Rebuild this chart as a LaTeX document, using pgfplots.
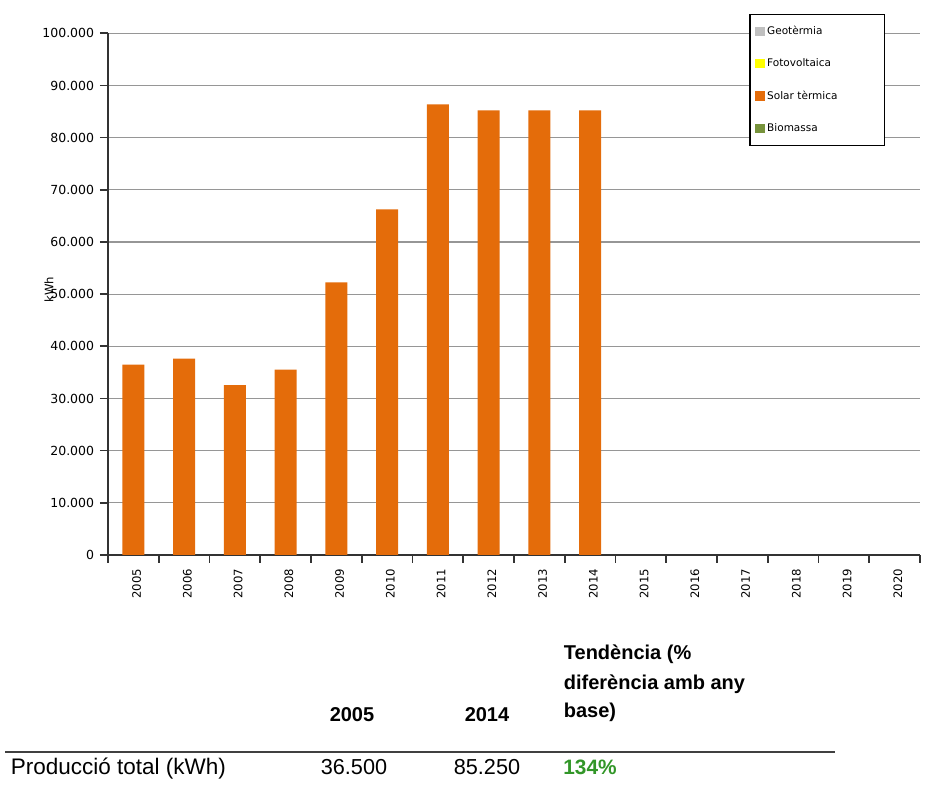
\documentclass[border=0pt]{standalone}
\usepackage{pgfplots}
\pgfplotsset{compat=1.18}
\usepackage{fontspec}
\setmainfont{Liberation Sans}
\newfontfamily\tickfont{DejaVu Sans}

\definecolor{solar}{RGB}{228,108,10}
\definecolor{geo}{RGB}{192,192,192}
\definecolor{foto}{RGB}{255,255,0}
\definecolor{bio}{RGB}{119,147,60}
\definecolor{gridc}{RGB}{150,150,150}
\definecolor{tend}{RGB}{50,150,40}

\pgfplotsset{
  sq/.style={legend image code/.code={\fill[#1] (0pt,-2.4pt) rectangle (4.8pt,2.4pt);}},
}

\begin{document}
\begin{tikzpicture}[x=0.6pt,y=0.6pt]
\path (0,0) rectangle (926,783);
\begin{axis}[
  at={(64.8pt,136.8pt)}, anchor=south west,
  scale only axis, width=487.2pt, height=313pt,
  xmin=-0.5, xmax=15.5, ymin=0, ymax=100000,
  axis x line=bottom, axis y line=left,
  axis line style={-, draw=black!80, line width=1.1pt},
  ymajorgrids, major grid style={gridc, line width=0.7pt},
  ytick={0,10000,...,100000},
  scaled y ticks=false,
  yticklabels={0,10.000,20.000,30.000,40.000,50.000,60.000,70.000,80.000,90.000,100.000},
  yticklabel style={font=\tickfont\fontsize{7.5}{8}\selectfont},
  tick align=outside,
  major tick length=4.8pt, minor tick length=4.8pt,
  tick style={black!80, line width=1pt},
  xtick={0,...,15},
  xticklabels={2005,2006,2007,2008,2009,2010,2011,2012,2013,2014,2015,2016,2017,2018,2019,2020},
  major x tick style={draw=none},
  minor xtick={-0.5,0.5,...,15.5},
  xticklabel style={rotate=90, anchor=east, yshift=-2pt, font=\tickfont\fontsize{7}{8}\selectfont},
  ylabel={kWh},
  ylabel style={at={(axis description cs:-0.0727,0.509)}, anchor=center,
    font=\tickfont\fontsize{7}{8}\selectfont},
  legend style={at={(axis description cs:0.79,1.038)}, anchor=north west,
    draw=black, line width=0.9pt, fill=white,
    font=\tickfont\fontsize{6.3}{7}\selectfont,
    row sep=9pt, inner xsep=3pt, inner ysep=5pt,
    nodes={text width=66pt, align=left, inner xsep=1.5pt}},
  legend cell align=left,
]
\addlegendimage{sq=geo}
\addlegendimage{sq=foto}
\addlegendimage{sq=solar}
\addlegendimage{sq=bio}
\addplot[ybar, bar width=13.2pt, bar shift=0pt, fill=solar, draw=none, forget plot]
  coordinates {(0,36500) (1,37650) (2,32550) (3,35550) (4,52250)
               (5,66250) (6,86400) (7,85250) (8,85250) (9,85250)};
\legend{Geotèrmia,Fotovoltaica,Solar tèrmica,Biomassa}
\end{axis}

% taula resum
\node[anchor=base west, font=\fontsize{13.5}{15}\selectfont] at (5,8) {Producció total (kWh)};
\node[anchor=base, font=\fontsize{13}{14}\selectfont] at (354,8) {36.500};
\node[anchor=base, font=\fontsize{13}{14}\selectfont] at (487,8) {85.250};
\node[anchor=base, font=\bfseries\fontsize{12.5}{14}\selectfont, text=tend] at (590,8) {134\%};
\draw[line width=1.2pt, black!75] (5,31) -- (835,31);
\node[anchor=base, font=\bfseries\fontsize{12}{14}\selectfont] at (352,61) {2005};
\node[anchor=base, font=\bfseries\fontsize{12}{14}\selectfont] at (487,61) {2014};
\node[anchor=base west, font=\bfseries\fontsize{12}{14}\selectfont] at (558,123) {Tendència (\%};
\node[anchor=base west, font=\bfseries\fontsize{12}{14}\selectfont] at (558,93) {diferència amb any};
\node[anchor=base west, font=\bfseries\fontsize{12}{14}\selectfont] at (558,65) {base)};
\end{tikzpicture}
\end{document}
